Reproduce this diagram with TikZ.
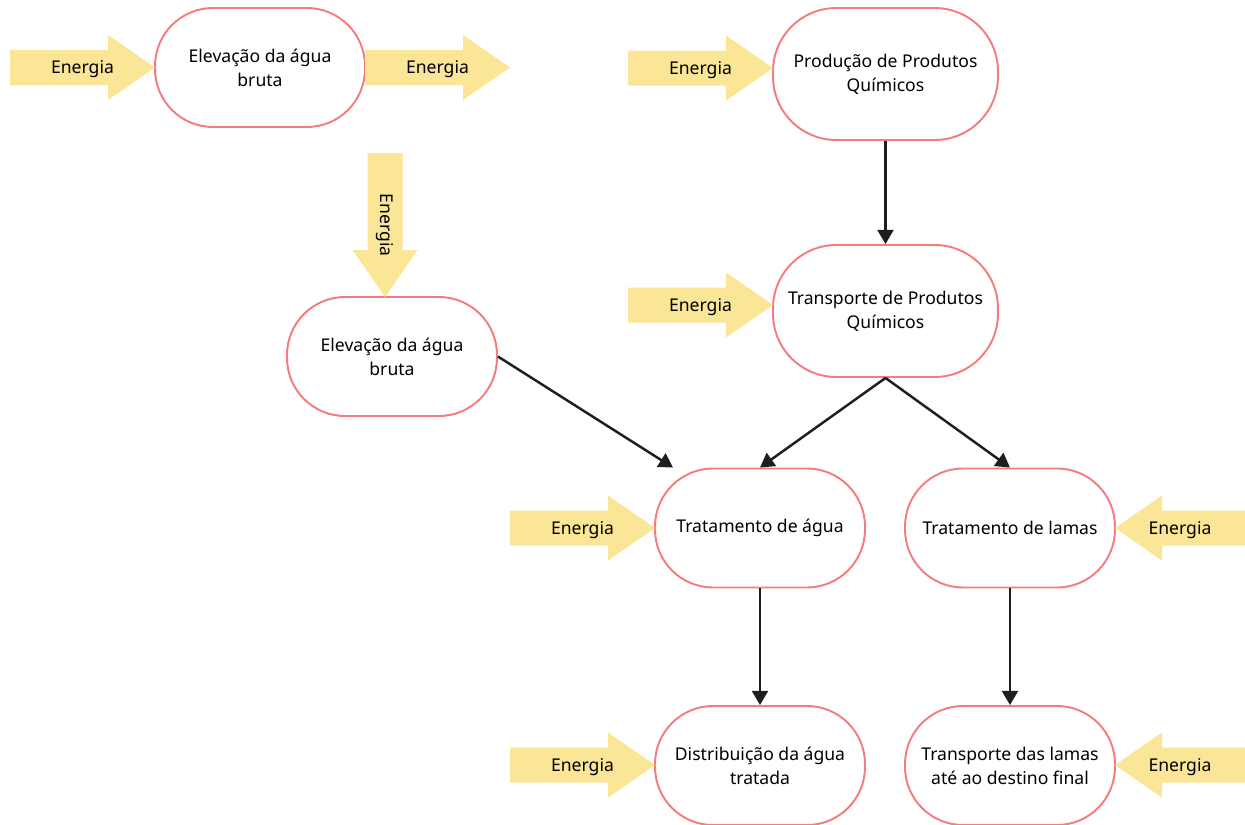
\documentclass[tikz,border=0pt]{standalone}
\usepackage{fontspec}
\setmainfont{Noto Sans}
\usetikzlibrary{arrows.meta}

\definecolor{energyYellow}{HTML}{FAE696}
\definecolor{boxRed}{HTML}{F47C7C}
\definecolor{lineBlack}{HTML}{1E1E1E}

% #1 extra text options, #2 name, #3 tip, #4 direction, #5 length
\newcommand{\energia}[5][]{%
    \begin{scope}[shift={#3}, rotate=#4]
        \fill[energyYellow] (0,0) -- (-47,-32.5) -- (-47,-17.5) -- (-#5,-17.5)
            -- (-#5,17.5) -- (-47,17.5) -- (-47,32.5) -- cycle;
        \node[energyText, #1] (#2) at (-#5/2,0) {Energia};
    \end{scope}}

\begin{document}
\begin{tikzpicture}
            [x=0.02cm, y=-0.02cm,
            myBox/.style={rectangle,
                        draw=boxRed,
                        line width=1.1pt,
                        fill=white,
                        rounded corners=33pt,
                        align=center,
                        font=\fontsize{10}{13.7}\selectfont,
                        minimum width=4.2cm,
                        minimum height=2.38cm},
            bigBox/.style={myBox,
                        rounded corners=36pt,
                        minimum width=4.5cm,
                        minimum height=2.64cm},
            energyText/.style={font=\fontsize{10}{12}\selectfont, inner sep=0pt},
            flow/.style={draw=lineBlack, line width=1.4pt,
                        -{Triangle[length=8pt,width=9pt]}}]

            \useasboundingbox (0,0) rectangle (1245,825);

            \node[myBox] (elevTop) at (260, 67.5) {Elevação da água\\bruta};
            \node[bigBox] (producaoQuimicos) at (885.5, 74) {Produção de Produtos\\Químicos};
            \node[bigBox] (transporteQuimicos) at (885.5, 311) {Transporte de Produtos\\Químicos};
            \node[myBox] (elevMid) at (392, 356.5) {Elevação da água\\bruta};
            \node[myBox] (tratAgua) at (760, 528) {Tratamento de água};
            \node[myBox] (tratLamas) at (1010, 528) {Tratamento de lamas};
            \node[myBox] (distribAgua) at (760, 765.5) {Distribuição da água\\tratada};
            \node[myBox] (transporteLamas) at (1010, 765.5) {Transporte das lamas\\até ao destino final};

            \energia[yshift=-1.2pt]{energiaA}{(155, 67.5)}{0}{145}
            \energia[yshift=-1.2pt]{energiaB}{(510, 67.5)}{0}{145}
            \energia[yshift=-1.2pt]{energiaC}{(773, 68)}{0}{145}
            \energia[yshift=-1.2pt]{energiaD}{(773, 305)}{0}{145}
            \energia[rotate=-90]{energiaE}{(385, 297)}{-90}{144}
            \energia[yshift=-1.2pt]{energiaF}{(655, 528)}{0}{145}
            \energia[yshift=-1.2pt]{energiaG}{(655, 765)}{0}{145}
            \energia[yshift=-1.2pt]{energiaH}{(1115, 528)}{180}{130}
            \energia[yshift=-1.2pt]{energiaI}{(1115, 765)}{180}{130}

            \draw [flow] (producaoQuimicos) to (transporteQuimicos);
            \draw [flow] (transporteQuimicos.south) to (tratAgua.north);
            \draw [flow] (transporteQuimicos.south) to (tratLamas.north);
            \draw [flow] (elevMid.east) to ([xshift=0.38cm]tratAgua.north west);
            \draw [flow] (tratAgua) to (distribAgua);
            \draw [flow] (tratLamas) to (transporteLamas);
        \end{tikzpicture}
\end{document}
